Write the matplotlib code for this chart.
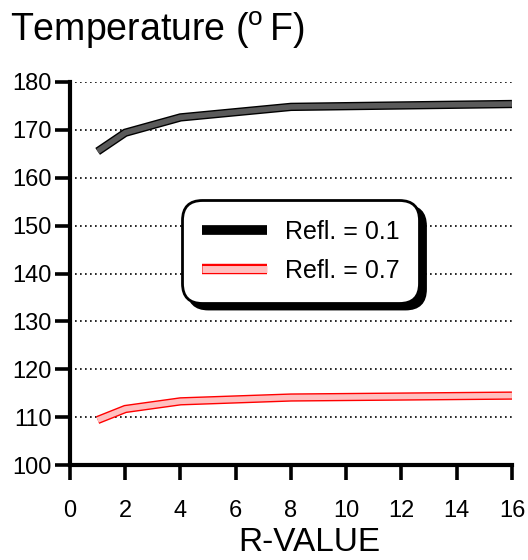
import matplotlib
matplotlib.use("Agg")
import matplotlib.pyplot as plt
import matplotlib.patheffects as pe
from matplotlib.lines import Line2D

plt.rcParams['font.family'] = ['Liberation Sans', 'DejaVu Sans']

r_value = [1, 2, 4, 8, 16]
temp_refl_01 = [165.5, 169.4, 172.6, 174.8, 175.4]
temp_refl_07 = [109.4, 111.7, 113.3, 114.1, 114.5]
labels = ["Refl. = 0.1", "Refl. = 0.7"]

fig = plt.figure(figsize=(5.28, 5.6), dpi=100)
ax = fig.add_axes([0.1326, 0.1696, 0.837, 0.684])

def band(y, fill, edge):
    ax.plot(r_value, y, color=fill, lw=4, solid_capstyle='butt', solid_joinstyle='miter',
            path_effects=[pe.Stroke(linewidth=6, foreground=edge, capstyle='butt', joinstyle='miter'), pe.Normal()],
            zorder=3)

band(temp_refl_01, "#5a5a5a", "black")
band(temp_refl_07, "#ffc0c0", "red")

for yv in range(110, 190, 10):
    ax.axhline(yv, color="black", lw=1.2, ls=(0, (1, 2)), zorder=1)

ax.set_xlim(0, 16)
ax.set_ylim(100, 180)
ax.set_xticks(range(0, 17, 2))
ax.set_yticks(range(100, 190, 10))
for s in ["top", "right"]:
    ax.spines[s].set_visible(False)
for s in ["left", "bottom"]:
    ax.spines[s].set_linewidth(3)
ax.tick_params(axis='both', direction='out', length=11, width=2.6, labelsize=17)
ax.tick_params(axis='x', pad=14)
ax.tick_params(axis='y', pad=2)
ax.set_xlabel("R-VALUE", fontsize=24)
ax.xaxis.set_label_coords(0.541, -0.162)

fig.text(0.018, 0.926, r"Temperature ($^\mathregular{o}\,$F)", fontsize=27)

h1 = Line2D([], [], color="black", lw=7, solid_capstyle='butt')
h2 = Line2D([], [], color="#ffc0c0", lw=5, solid_capstyle='butt',
            path_effects=[pe.Stroke(linewidth=7.5, foreground="red", capstyle='butt'), pe.Normal()])
leg = ax.legend([h1, h2], labels, loc="center", bbox_to_anchor=(0.522, 0.558), fontsize=18,
                fancybox=True, shadow={'color': 'black', 'alpha': 1, 'ox': 4.5, 'oy': -4.5},
                framealpha=1, edgecolor="black", handlelength=2.6, labelspacing=0.6,
                borderpad=0.8, handletextpad=0.7)
leg.get_frame().set_linewidth(2)
leg.get_frame().set_boxstyle("round", pad=0, rounding_size=0.8)

fig.savefig("out.png", dpi=100)
